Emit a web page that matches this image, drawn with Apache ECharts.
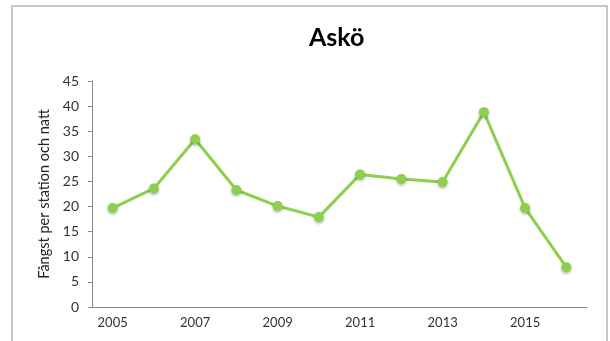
<!DOCTYPE html>
<html>
<head>
<meta charset="utf-8">
<script src="https://cdn.jsdelivr.net/npm/echarts@6/dist/echarts.min.js"></script>
<style>
  html, body { margin: 0; padding: 0; background: #fff; }
  #main { width: 610px; height: 341px; }
</style>
</head>
<body>
<div id="main"></div>
<script>
// years on the x axis
var years = ['2005', '2006', '2007', '2008', '2009', '2010', '2011', '2012', '2013', '2014', '2015', '2016'];
// catch per station and night
var catchValues = [19.7, 23.6, 33.4, 23.3, 20.1, 17.9, 26.4, 25.5, 24.9, 38.8, 19.7, 7.9];

var green = '#8dcf4f';
var fontFam = 'Lato, "Open Sans", sans-serif';

var chart = echarts.init(document.getElementById('main'));
var option = {
    animation: false,
    title: {
        text: 'Askö',
        left: 304,
        top: 20,
        textStyle: { fontFamily: fontFam, fontSize: 25, fontWeight: 'bold', color: '#000' }
    },
    graphic: [{
        type: 'rect',
        shape: { x: 12, y: 6, width: 595, height: 345 },
        style: { fill: 'none', stroke: '#c6c6c6', lineWidth: 2 },
        silent: true
    }],
    grid: { left: 92, right: 23, top: 81, bottom: 34 },
    xAxis: {
        type: 'category',
        data: years,
        boundaryGap: true,
        axisLine: { lineStyle: { color: '#8a8a8a', width: 1 } },
        axisTick: { interval: 0, length: 4, lineStyle: { color: '#8a8a8a' } },
        axisLabel: { interval: 1, margin: 9, color: '#333', fontFamily: fontFam, fontSize: 13 }
    },
    yAxis: {
        type: 'value',
        min: 0,
        max: 45,
        interval: 5,
        name: 'Fångst per station och natt',
        nameLocation: 'middle',
        nameGap: 38,
        nameTextStyle: { fontFamily: fontFam, fontSize: 14.5, color: '#222' },
        axisLine: { show: true, lineStyle: { color: '#8a8a8a', width: 1 } },
        axisTick: { show: true, length: 4, lineStyle: { color: '#8a8a8a' } },
        axisLabel: { margin: 13, color: '#333', fontFamily: fontFam, fontSize: 14 },
        splitLine: { show: false }
    },
    series: [{
        type: 'line',
        data: catchValues,
        symbol: 'circle',
        symbolSize: 10,
        lineStyle: { color: green, width: 3 },
        itemStyle: {
            color: green,
            shadowBlur: 3,
            shadowColor: 'rgba(0,0,0,0.3)',
            shadowOffsetY: 1.5
        }
    }]
};
chart.setOption(option);
</script>
</body>
</html>
